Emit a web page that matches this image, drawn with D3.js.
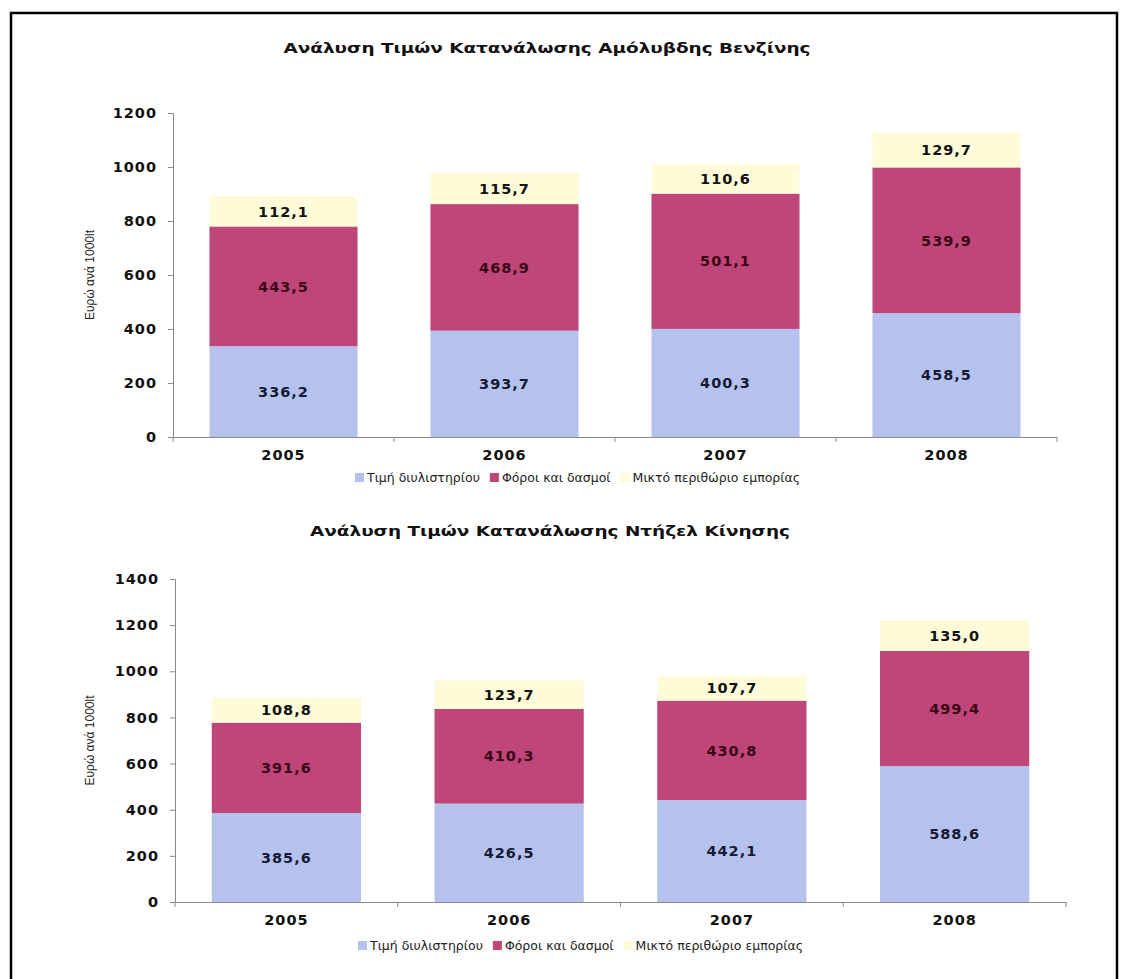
<!DOCTYPE html>
<html>
<head>
<meta charset="utf-8">
<script src="https://cdn.jsdelivr.net/npm/d3@7"></script>
<style>
  html, body { margin: 0; padding: 0; background: #fff; }
  svg { display: block; }
</style>
</head>
<body>
<svg id="chart" width="1126" height="979"></svg>
<script>
// Years on the category axis
const years = ["2005", "2006", "2007", "2008"];

// Series names (legend)
const seriesNames = ["Τιμή διυλιστηρίου", "Φόροι και δασμοί", "Μικτό περιθώριο εμπορίας"];

// Unleaded petrol, euro per 1000 lt
const petrolRefinery = [336.2, 393.7, 400.3, 458.5];
const petrolTaxes    = [443.5, 468.9, 501.1, 539.9];
const petrolMargin   = [112.1, 115.7, 110.6, 129.7];

// Diesel, euro per 1000 lt
const dieselRefinery = [385.6, 426.5, 442.1, 588.6];
const dieselTaxes    = [391.6, 410.3, 430.8, 499.4];
const dieselMargin   = [108.8, 123.7, 107.7, 135.0];

// Y axis tick values
const petrolTicks = [0, 200, 400, 600, 800, 1000, 1200];
const dieselTicks = [0, 200, 400, 600, 800, 1000, 1200, 1400];

const titles = [
  "Ανάλυση Τιμών Κατανάλωσης Αμόλυβδης Βενζίνης",
  "Ανάλυση Τιμών Κατανάλωσης Ντήζελ Κίνησης"
];
const yTitle = "Ευρώ ανά 1000lt";

const colors = ["#b6c2ee", "#bf4678", "#fdfbd8"];
const labelColors = ["#141a33", "#3a0616", "#111111"];

const fmtLocale = d3.formatLocale({ decimal: ",", thousands: ".", grouping: [3], currency: ["€", ""] });
const fmt = fmtLocale.format(".1f");

const svg = d3.select("#chart");

// Outer frame
svg.append("rect")
  .attr("x", 11).attr("y", 13)
  .attr("width", 1106).attr("height", 990)
  .attr("fill", "none").attr("stroke", "#000").attr("stroke-width", 2.5);

function drawChart(cfg) {
  const g = svg.append("g");
  const rows = years.map((yr, i) => ({
    year: yr, s0: cfg.series[0][i], s1: cfg.series[1][i], s2: cfg.series[2][i]
  }));
  const stack = d3.stack().keys(["s0", "s1", "s2"])(rows);

  const x = d3.scaleBand().domain(years)
    .range([cfg.x0, cfg.x1]).paddingInner(0.33).paddingOuter(0.165);
  const y = d3.scaleLinear().domain([0, cfg.max]).range([cfg.yBottom, cfg.yTop]);

  // Title
  g.append("text")
    .attr("x", cfg.titleX).attr("y", cfg.titleY)
    .attr("text-anchor", "middle")
    .attr("font-family", "DejaVu Sans, Verdana, sans-serif")
    .attr("font-weight", "bold").attr("font-size", 14.5)
    .attr("textLength", cfg.titleW).attr("lengthAdjust", "spacingAndGlyphs")
    .attr("fill", "#111")
    .text(cfg.title);

  // Stacked bars
  stack.forEach((layer, k) => {
    g.append("g").selectAll("rect").data(layer).join("rect")
      .attr("x", d => x(d.data.year))
      .attr("width", x.bandwidth())
      .attr("y", d => y(d[1]))
      .attr("height", d => y(d[0]) - y(d[1]))
      .attr("fill", colors[k]);
  });

  // Value labels, centred in each segment
  stack.forEach((layer, k) => {
    g.append("g").selectAll("text").data(layer).join("text")
      .attr("x", d => x(d.data.year) + x.bandwidth() / 2)
      .attr("y", d => (y(d[0]) + y(d[1])) / 2)
      .attr("dy", "0.36em")
      .attr("text-anchor", "middle")
      .attr("font-family", "DejaVu Sans, Verdana, sans-serif")
      .attr("font-weight", "bold").attr("font-size", 14.5)
      .attr("letter-spacing", 1)
      .attr("fill", labelColors[k])
      .text(d => fmt(d[1] - d[0]));
  });

  // Y axis
  const yAxis = g.append("g")
    .attr("transform", `translate(${cfg.x0},0)`)
    .call(d3.axisLeft(y).tickValues(cfg.ticks).tickSize(5).tickPadding(11).tickFormat(d3.format("d")));
  yAxis.select(".domain").attr("stroke", "#8a8a8a");
  yAxis.selectAll(".tick line").attr("stroke", "#8a8a8a");
  yAxis.selectAll(".tick text")
    .attr("font-family", "DejaVu Sans, Verdana, sans-serif")
    .attr("font-weight", "bold").attr("font-size", 14.5)
    .attr("letter-spacing", 1)
    .attr("fill", "#111");

  // X axis: labels under band centres, ticks at band boundaries
  const xAxis = g.append("g")
    .attr("transform", `translate(0,${cfg.yBottom})`)
    .call(d3.axisBottom(x).tickSize(0).tickPadding(13).tickSizeOuter(0));
  xAxis.select(".domain").attr("stroke", "#8a8a8a");
  xAxis.selectAll(".tick text")
    .attr("font-family", "DejaVu Sans, Verdana, sans-serif")
    .attr("font-weight", "bold").attr("font-size", 14.5)
    .attr("letter-spacing", 1)
    .attr("fill", "#111");
  const bounds = d3.range(years.length + 1).map(i => cfg.x0 + i * x.step());
  xAxis.selectAll("line.bound").data(bounds).join("line")
    .attr("class", "bound")
    .attr("x1", d => d).attr("x2", d => d)
    .attr("y1", 0).attr("y2", 5)
    .attr("stroke", "#8a8a8a");

  // Y axis title
  g.append("text")
    .attr("transform", `translate(${cfg.yTitleX},${(cfg.yTop + cfg.yBottom) / 2}) rotate(-90)`)
    .attr("text-anchor", "middle")
    .attr("font-family", "Liberation Sans Narrow, Arial Narrow, sans-serif")
    .attr("font-size", 12)
    .attr("fill", "#222")
    .text(yTitle);

  // Legend
  const leg = g.append("g").attr("transform", `translate(${cfg.legendX},${cfg.legendY})`);
  let cx = 0;
  seriesNames.forEach((name, k) => {
    leg.append("rect")
      .attr("x", cx).attr("y", -5).attr("width", 9).attr("height", 9)
      .attr("fill", colors[k]);
    const t = leg.append("text")
      .attr("x", cx + 12).attr("y", 0).attr("dy", "0.35em")
      .attr("font-family", "DejaVu Sans, Verdana, sans-serif")
      .attr("font-size", 12.5)
      .attr("fill", "#222")
      .text(name);
    cx += 12 + t.node().getComputedTextLength() + 10;
  });
}

drawChart({
  title: titles[0], titleX: 547, titleY: 53, titleW: 527,
  series: [petrolRefinery, petrolTaxes, petrolMargin],
  ticks: petrolTicks, max: 1200,
  x0: 173, x1: 1057, yTop: 113, yBottom: 437,
  yTitleX: 94, legendX: 355, legendY: 478
});

drawChart({
  title: titles[1], titleX: 550, titleY: 536, titleW: 480,
  series: [dieselRefinery, dieselTaxes, dieselMargin],
  ticks: dieselTicks, max: 1400,
  x0: 175, x1: 1066, yTop: 579, yBottom: 902,
  yTitleX: 94, legendX: 358, legendY: 946
});
</script>
</body>
</html>
